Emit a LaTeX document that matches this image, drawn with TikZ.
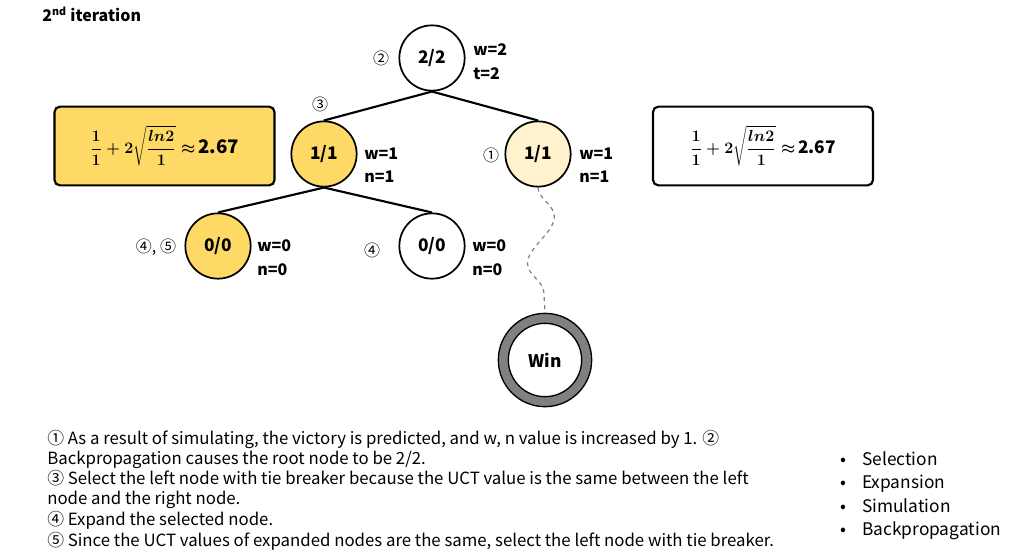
\documentclass[tikz,border=0pt]{standalone}
\usepackage{fontspec}
\setmainfont{Noto Sans CJK KR}
\usetikzlibrary{decorations.pathmorphing}
\definecolor{ylw}{HTML}{FFD966}
\definecolor{lylw}{HTML}{FFF2CC}
\definecolor{ring}{HTML}{808080}
\newcommand{\uctf}[1]{{\fontsize{12}{14}\selectfont\boldmath$\displaystyle\frac{1}{1}+2\sqrt{\frac{ln2}{1}}\approx$}~{\fontsize{#1}{16}\selectfont\bfseries 2.67}}
\begin{document}
\begin{tikzpicture}[x=0.75pt,y=-0.75pt,
  st/.style={circle,draw=black,line width=1.3pt,minimum size=49pt,inner sep=0pt,font=\fontsize{13}{15}\selectfont\bfseries},
  lab/.style={font=\fontsize{12}{14}\selectfont\bfseries,anchor=west,inner sep=0pt},
  num/.style={font=\fontsize{12}{14}\selectfont,inner sep=0pt},
  conn/.style={line width=1.6pt},
  ubox/.style={draw=black,line width=1.6pt,rounded corners=4pt,minimum width=165pt,minimum height=59pt},
  txt/.style={font=\fontsize{12.6}{14}\selectfont,anchor=base west,inner sep=0pt},
  bul/.style={font=\fontsize{13}{15}\selectfont,anchor=base west,inner sep=0pt}]
\useasboundingbox (0,0) rectangle (1024,551);
\node[font=\fontsize{12}{14}\selectfont\bfseries,anchor=base west,inner sep=0pt] (title) at (42,21) {2\textsuperscript{nd} iteration};
\node[st] (r) at (432,58) {2/2};
\node[st,fill=ylw] (a) at (324,154) {1/1};
\node[st,fill=lylw] (b) at (538,154) {1/1};
\node[st,fill=ylw] (c) at (218,246) {0/0};
\node[st] (d) at (432,246) {0/0};
\node[circle,draw=black,fill=ring,minimum size=70pt,inner sep=0pt,line width=1pt] (w) at (545,360) {};
\node[circle,draw=black,fill=white,minimum size=55pt,inner sep=0pt,line width=1pt,font=\fontsize{13}{15}\selectfont\bfseries] (wi) at (545,360) {Win};
\draw[conn] (r.south) -- (a.north);
\draw[conn] (r.south) -- (b.north);
\draw[conn] (a.south) -- (c.north);
\draw[conn] (a.south) -- (d.north);
\draw[dashed,gray,line width=0.9pt,decorate,decoration={snake,amplitude=11pt,segment length=70pt}] (b.south) -- (w.north);
\node[num] (n2) at (381,58) {②};
\node[lab] (r1) at (473,50) {w=2};
\node[lab] (r2) at (473,74) {t=2};
\node[num] (n3) at (320,104) {③};
\node[lab] (a1) at (364,154) {w=1};
\node[lab] (a2) at (364,177) {n=1};
\node[num] (n1) at (491,155) {①};
\node[lab] (b1) at (579,154) {w=1};
\node[lab] (b2) at (579,177) {n=1};
\node[num] (n45) at (156,247) {④, ⑤};
\node[lab] (c1) at (257,246) {w=0};
\node[lab] (c2) at (257,270) {n=0};
\node[num] (n4) at (372,250) {④};
\node[lab] (d1) at (472,246) {w=0};
\node[lab] (d2) at (472,270) {n=0};
\node[ubox,fill=ylw] (lb) at (164.5,146) {\uctf{14}};
\node[ubox] (rb) at (763,146) {\uctf{13}};
\node[txt] (t1) at (47,444) {① As a result of simulating, the victory is predicted, and w, n value is increased by 1. ②};
\node[txt] (t2) at (47,464) {Backpropagation causes the root node to be 2/2.};
\node[txt] (t3) at (47,484) {③ Select the left node with tie breaker because the UCT value is the same between the left};
\node[txt] (t4) at (47,504) {node and the right node.};
\node[txt] (t5) at (47,525) {④ Expand the selected node.};
\node[txt] (t6) at (47,546) {⑤ Since the UCT values of expanded nodes are the same, select the left node with tie breaker.};
\node[bul] (s1) at (840,465) {•\hspace{12pt}Selection};
\node[bul] (s2) at (840,488) {•\hspace{12pt}Expansion};
\node[bul] (s3) at (840,512) {•\hspace{12pt}Simulation};
\node[bul] (s4) at (840,535) {•\hspace{12pt}Backpropagation};
\end{tikzpicture}
\end{document}
